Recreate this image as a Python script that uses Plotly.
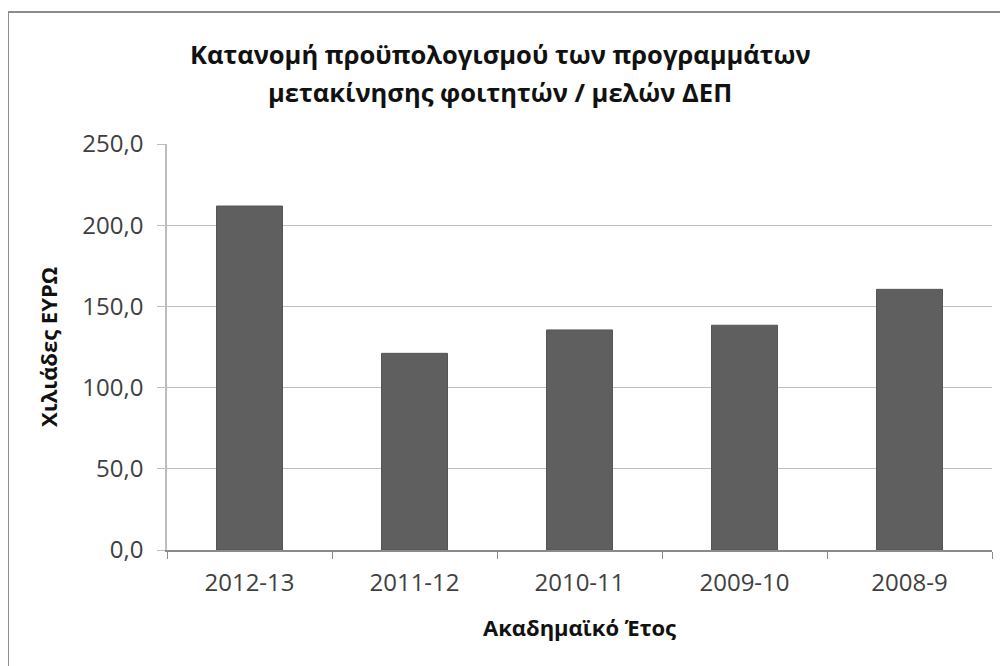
import plotly.graph_objects as go

years = ["2012-13", "2011-12", "2010-11", "2009-10", "2008-9"]
values = [211.8, 121.1, 135.5, 138.4, 160.5]
y_ticks = [0, 50, 100, 150, 200, 250]

title_line1 = "Κατανομή προϋπολογισμού των προγραμμάτων"
title_line2 = "μετακίνησης φοιτητών / μελών ΔΕΠ"
x_title = "Ακαδημαϊκό Έτος"
y_title = "Χιλιάδες ΕΥΡΩ"

FONT = "Open Sans"
# page has an 8px body margin; figure coordinates = screen - 8
W, H = 1000, 658
L, R, T, B = 159, 16, 136, 116
pw = W - L - R
ph = H - T - B

def px_x(p):
    return (p - L) / pw

def px_y(p):
    return (H - B - p) / ph

fig = go.Figure(
    go.Bar(
        x=years,
        y=values,
        marker=dict(color="#5f5f5f", line=dict(color="#555555", width=1)),
        width=0.4,
    )
)

title_font = dict(family=FONT, size=25.5, color="#111111")

fig.update_layout(
    width=W,
    height=H,
    margin=dict(l=L, r=R, t=T, b=B, autoexpand=False),
    paper_bgcolor="white",
    plot_bgcolor="white",
    separators=",.",
    showlegend=False,
    font=dict(family=FONT, color="#404040"),
    xaxis=dict(
        type="category",
        automargin=False,
        showline=True,
        linecolor="#8a8a8a",
        linewidth=1.5,
        ticks="outside",
        ticklen=7,
        tickcolor="#8a8a8a",
        tickson="boundaries",
        tickfont=dict(family=FONT, size=24, color="#404040"),
        ticklabelstandoff=10,
        title=dict(
            text="<b>" + x_title + "</b>",
            font=dict(family=FONT, size=22, color="#111111"),
            standoff=24,
        ),
    ),
    yaxis=dict(
        automargin=False,
        range=[0, 250],
        tickvals=y_ticks,
        tickformat=".1f",
        showline=True,
        linecolor="#bdbdbd",
        linewidth=1.5,
        showgrid=True,
        gridcolor="#bfbfbf",
        gridwidth=1.2,
        ticks="outside",
        ticklen=8,
        tickcolor="#bdbdbd",
        tickfont=dict(family=FONT, size=24, color="#404040"),
        ticklabelstandoff=9,
        zeroline=False,
        title=dict(
            text="<b>" + y_title + "</b>",
            font=dict(family=FONT, size=22, color="#111111"),
            standoff=19,
        ),
    ),
    annotations=[
        dict(
            text="<b>" + title_line1 + "</b>",
            xref="paper",
            yref="paper",
            x=px_x(492),
            y=px_y(46),
            xanchor="center",
            yanchor="middle",
            showarrow=False,
            font=title_font,
        ),
        dict(
            text="<b>" + title_line2 + "</b>",
            xref="paper",
            yref="paper",
            x=px_x(492),
            y=px_y(84),
            xanchor="center",
            yanchor="middle",
            showarrow=False,
            font=title_font,
        ),
    ],
    shapes=[
        dict(
            type="rect",
            xref="paper",
            yref="paper",
            x0=px_x(0),
            x1=px_x(1030),
            y0=px_y(700),
            y1=px_y(4),
            line=dict(color="#8c8c8c", width=2),
            fillcolor="rgba(0,0,0,0)",
            layer="below",
        )
    ],
)

fig.write_html("out.html")
